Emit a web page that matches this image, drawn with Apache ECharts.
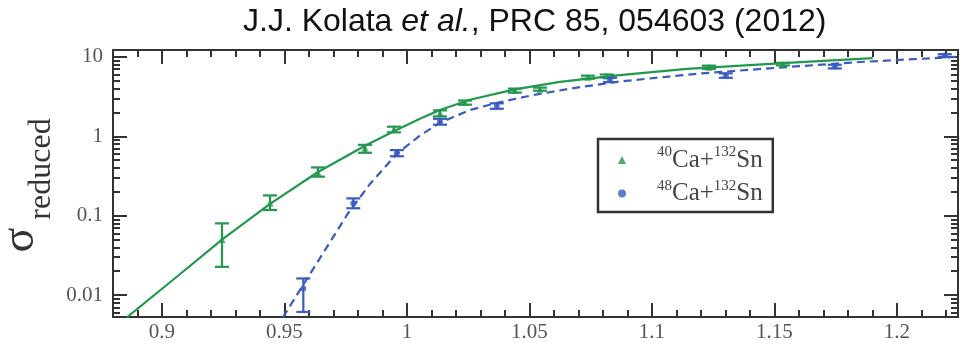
<!DOCTYPE html>
<html><head><meta charset="utf-8">
<script src="https://cdn.jsdelivr.net/npm/echarts@6/dist/echarts.min.js"></script>
<style>html,body{margin:0;padding:0;background:#fff}#c{width:966px;height:346px}</style>
</head><body><div id="c"></div>
<script>
// ---- text ----
const titleText = 'J.J. Kolata {i|et al.}, PRC 85, 054603 (2012)';
const seriesNames = ['40Ca+132Sn', '48Ca+132Sn'];
const yNameMain = 'σ';
const yNameSub = 'reduced';

// ---- ticks ----
const xMajor = [0.9, 0.95, 1, 1.05, 1.1, 1.15, 1.2];
const xMinor = [0.89, 0.91, 0.92, 0.93, 0.94, 0.96, 0.97, 0.98, 0.99, 1.01, 1.02, 1.03, 1.04,
  1.06, 1.07, 1.08, 1.09, 1.11, 1.12, 1.13, 1.14, 1.16, 1.17, 1.18, 1.19, 1.21, 1.22];
const yMajor = [0.01, 0.1, 1, 10];
const yMinor = [0.006, 0.007, 0.008, 0.009, 0.02, 0.03, 0.04, 0.05, 0.06, 0.07, 0.08, 0.09,
  0.2, 0.3, 0.4, 0.5, 0.6, 0.7, 0.8, 0.9, 2, 3, 4, 5, 6, 7, 8, 9];

// ---- data: 40Ca+132Sn (green) ----
const caX40 = [0.9245, 0.9441, 0.9637, 0.9829, 0.9947, 1.0135, 1.0237, 1.0441, 1.0543, 1.0739, 1.0816, 1.1233, 1.1535];
const caY40 = [0.050, 0.144, 0.351, 0.71, 1.22, 1.95, 2.66, 3.76, 3.92, 5.55, 5.75, 7.4, 8.1];
const caLo40 = [0.0227, 0.118, 0.31, 0.62, 1.12, 1.78, 2.50, 3.55, 3.75, 5.30, 5.50, 7.05, 7.8];
const caHi40 = [0.080, 0.180, 0.405, 0.78, 1.32, 2.12, 2.82, 3.98, 4.10, 5.80, 6.00, 7.75, 8.4];
const fitX40 = [0.8857, 0.9053, 0.9245, 0.9441, 0.9637, 0.9829, 0.9951, 1.0053, 1.0135, 1.0257, 1.0441, 1.0624, 1.0869, 1.1143, 1.1535, 1.1902];
const fitY40 = [0.00526, 0.0163, 0.050, 0.141, 0.355, 0.76, 1.175, 1.66, 2.14, 2.88, 3.89, 4.84, 5.89, 7.06, 8.34, 9.66];

// ---- data: 48Ca+132Sn (blue) ----
const caX48 = [0.9577, 0.9781, 0.9959, 1.0135, 1.0367, 1.0829, 1.1302, 1.1747, 1.2196];
const caY48 = [0.0121, 0.143, 0.61, 1.53, 2.41, 5.13, 5.81, 7.55, 10.4];
const caLo48 = [0.00614, 0.124, 0.56, 1.40, 2.22, 4.80, 5.45, 7.15, 10.0];
const caHi48 = [0.0162, 0.165, 0.67, 1.66, 2.60, 5.45, 6.2, 7.95, 10.8];
const fitX48 = [0.9494, 0.9563, 0.9645, 0.9755, 0.9849, 0.9959, 1.0053, 1.0135, 1.0257, 1.0367, 1.0502, 1.0665, 1.0869, 1.1196, 1.1522, 1.1849, 1.2249];
const fitY48 = [0.00526, 0.01153, 0.0292, 0.102, 0.251, 0.603, 1.02, 1.48, 2.14, 2.63, 3.24, 3.98, 4.90, 6.17, 7.33, 8.61, 10.0];

// ---- style ----
const GREEN = '#22984e';
const BLUE = '#3a5bbf';
const AXIS = '#333';
const LABEL = '#555';
const SERIF = '"Liberation Serif", "DejaVu Serif", serif';
const SANS = '"Liberation Sans", Arial, sans-serif';
const X_MIN = 0.88, X_MAX = 1.225, Y_MIN = 0.0053, Y_MAX = 12.2;
const gridRect = { left: 113, right: 8, top: 50, bottom: 29 };

const zip = (a, b) => a.map((v, i) => [v, b[i]]);
const zip3 = (a, b, c) => a.map((v, i) => [v, b[i], c[i]]);

function xAxisDef(gridIndex, position, values, len, showLabel, showLine) {
  return {
    type: 'value', gridIndex, position, min: X_MIN, max: X_MAX,
    axisLine: { show: showLine, lineStyle: { color: AXIS, width: 2 } },
    axisTick: { show: true, inside: true, length: len, customValues: values, lineStyle: { color: AXIS, width: 2 } },
    axisLabel: showLabel ? {
      show: true, customValues: values, margin: 5, color: LABEL, fontFamily: SERIF, fontSize: 21,
      formatter: v => String(parseFloat(Number(v).toFixed(3)))
    } : { show: false },
    splitLine: { show: false }
  };
}
function yAxisDef(gridIndex, position, values, len, showLabel, showLine) {
  return {
    type: 'log', logBase: 10, gridIndex, position, min: Y_MIN, max: Y_MAX,
    axisLine: { show: showLine, lineStyle: { color: AXIS, width: 2 } },
    axisTick: { show: true, inside: true, length: len, customValues: values, lineStyle: { color: AXIS, width: 2 } },
    axisLabel: showLabel ? {
      show: true, customValues: values, margin: 10, color: LABEL, fontFamily: SERIF, fontSize: 21,
      formatter: v => String(parseFloat(Number(v).toPrecision(3)))
    } : { show: false },
    splitLine: { show: false }
  };
}

function errorBarSeries(name, data, color) {
  return {
    type: 'custom', name, xAxisIndex: 0, yAxisIndex: 0, z: 3,
    data, encode: { x: 0, y: [1, 2] },
    renderItem: function (params, api) {
      const x = api.value(0);
      const lo = api.coord([x, api.value(1)]);
      const hi = api.coord([x, api.value(2)]);
      const hw = 7;
      const st = { stroke: color, lineWidth: 2.2 };
      return {
        type: 'group', children: [
          { type: 'line', shape: { x1: lo[0], y1: lo[1], x2: hi[0], y2: hi[1] }, style: st },
          { type: 'line', shape: { x1: lo[0] - hw, y1: lo[1], x2: lo[0] + hw, y2: lo[1] }, style: st },
          { type: 'line', shape: { x1: hi[0] - hw, y1: hi[1], x2: hi[0] + hw, y2: hi[1] }, style: st }
        ]
      };
    }
  };
}

const legendFormatter = name => '{sp| }' + name
  .replace(/(\d+)([A-Za-z]+)/g, '{sup|$1}{t|$2}')
  .replace('+', '{t|+}');

const chart = echarts.init(document.getElementById('c'), null, { renderer: 'canvas' });
chart.setOption({
  animation: false,
  backgroundColor: '#fff',
  title: {
    text: titleText, left: 243, top: 6, padding: 0,
    textStyle: {
      fontFamily: SANS, fontSize: 32, fontWeight: 'normal', color: '#111',
      rich: { i: { fontFamily: SANS, fontSize: 32, fontStyle: 'italic', color: '#111' } }
    }
  },
  grid: [Object.assign({}, gridRect), Object.assign({}, gridRect)],
  xAxis: [
    xAxisDef(0, 'bottom', xMajor, 14, true, true),
    xAxisDef(0, 'top', xMajor, 14, false, true),
    xAxisDef(1, 'bottom', xMinor, 7, false, false),
    xAxisDef(1, 'top', xMinor, 7, false, false)
  ],
  yAxis: [
    yAxisDef(0, 'left', yMajor, 14, true, true),
    yAxisDef(0, 'right', yMajor, 14, false, true),
    yAxisDef(1, 'left', yMinor, 7, false, false),
    yAxisDef(1, 'right', yMinor, 7, false, false)
  ],
  legend: {
    orient: 'vertical', left: 598, top: 139,
    padding: [6, 10, 6, 20], itemGap: 6, itemWidth: 8, itemHeight: 8,
    borderColor: '#333', borderWidth: 2.5, backgroundColor: '#fff',
    selectedMode: false,
    data: [
      { name: seriesNames[0], icon: 'triangle' },
      { name: seriesNames[1], icon: 'circle' }
    ],
    formatter: legendFormatter,
    textStyle: {
      fontFamily: SERIF, fontSize: 25, color: '#444',
      rich: {
        sp: { width: 26, fontSize: 25, lineHeight: 30 },
        t: { fontFamily: SERIF, fontSize: 25, color: '#444', lineHeight: 30 },
        sup: { fontFamily: SERIF, fontSize: 15, color: '#444', lineHeight: 15, verticalAlign: 'top' }
      }
    }
  },
  graphic: [
    { type: 'text', x: 21, y: 240, rotation: Math.PI / 2,
      style: { text: yNameMain, font: '46px ' + SERIF, fill: '#333', align: 'center', verticalAlign: 'middle', textAlign: 'center', textVerticalAlign: 'middle' } },
    { type: 'text', x: 42, y: 169, rotation: Math.PI / 2,
      style: { text: yNameSub, font: '32px ' + SERIF, fill: '#333', align: 'center', verticalAlign: 'middle', textAlign: 'center', textVerticalAlign: 'middle' } }
  ],
  series: [
    { type: 'line', name: 'fit40', xAxisIndex: 0, yAxisIndex: 0, data: zip(fitX40, fitY40),
      showSymbol: false, smooth: false, clip: true,
      lineStyle: { color: GREEN, width: 2.2 }, z: 2, silent: true },
    { type: 'line', name: 'fit48', xAxisIndex: 0, yAxisIndex: 0, data: zip(fitX48, fitY48),
      showSymbol: false, smooth: false, clip: true,
      lineStyle: { color: BLUE, width: 2.2, type: [8, 5] }, z: 2, silent: true },
    errorBarSeries('err40', zip3(caX40, caLo40, caHi40), GREEN),
    errorBarSeries('err48', zip3(caX48, caLo48, caHi48), BLUE),
    { type: 'scatter', name: seriesNames[0], xAxisIndex: 0, yAxisIndex: 0, data: zip(caX40, caY40),
      symbol: 'triangle', symbolSize: 7, itemStyle: { color: GREEN }, z: 4 },
    { type: 'scatter', name: seriesNames[1], xAxisIndex: 0, yAxisIndex: 0, data: zip(caX48, caY48),
      symbol: 'circle', symbolSize: 6, itemStyle: { color: BLUE }, z: 4 }
  ]
});
</script>
</body></html>
